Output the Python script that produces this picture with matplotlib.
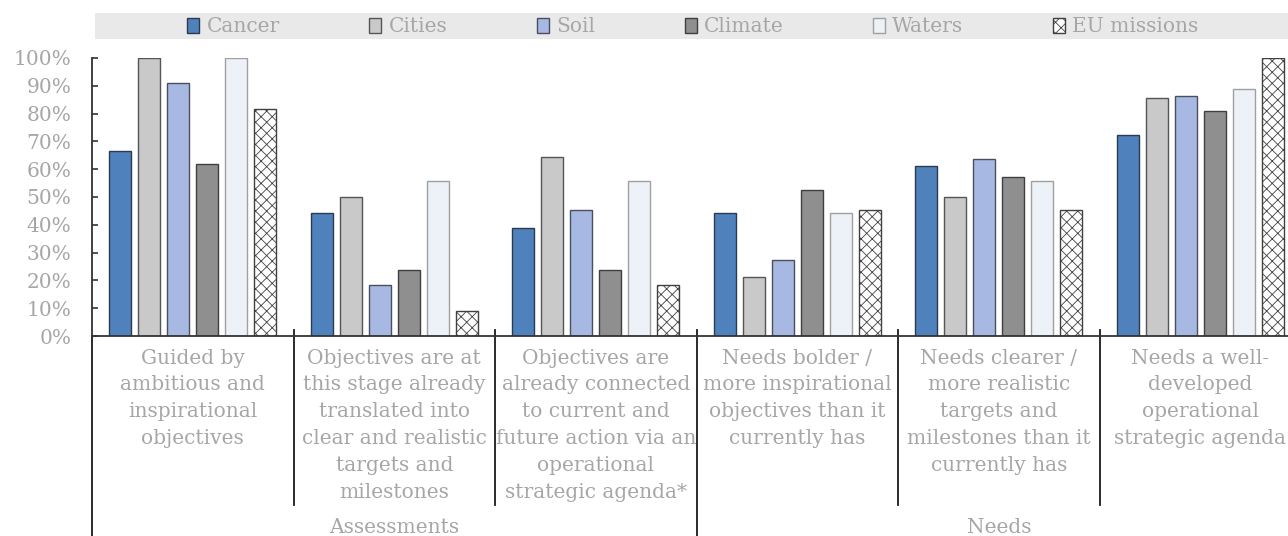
import matplotlib
matplotlib.use("Agg")
import matplotlib.pyplot as plt
import numpy as np
from matplotlib.patches import Rectangle
from matplotlib.ticker import FuncFormatter, MultipleLocator

# share of respondents per mission (%)
series = ['Cancer', 'Cities', 'Soil', 'Climate', 'Waters', 'EU missions']
cancer = [66.7, 44.4, 38.9, 44.4, 61.1, 72.2]
cities = [100.0, 50.0, 64.3, 21.4, 50.0, 85.7]
soil = [90.9, 18.2, 45.5, 27.3, 63.6, 86.4]
climate = [61.9, 23.8, 23.8, 52.4, 57.1, 81.0]
waters = [100.0, 55.6, 55.6, 44.4, 55.6, 88.9]
eu_missions = [81.8, 9.1, 18.2, 45.5, 45.5, 100.0]

categories = [
    'Guided by\nambitious and\ninspirational\nobjectives',
    'Objectives are at\nthis stage already\ntranslated into\nclear and realistic\ntargets and\nmilestones',
    'Objectives are\nalready connected\nto current and\nfuture action via an\noperational\nstrategic agenda*',
    'Needs bolder /\nmore inspirational\nobjectives than it\ncurrently has',
    'Needs clearer /\nmore realistic\ntargets and\nmilestones than it\ncurrently has',
    'Needs a well-\ndeveloped\noperational\nstrategic agenda',
]
groups = ['Assessments', 'Needs']

plt.rcParams['font.family'] = 'DejaVu Serif'
plt.rcParams['hatch.linewidth'] = 0.6
grey_text = '#A6A6A6'
dark = '#333333'
fs = 14.5

fig = plt.figure(figsize=(12.88, 5.36), dpi=100)
W, H = 1288, 536
ax = fig.add_axes([92 / W, 200 / H, 1209 / W, 278 / H])

values = [cancer, cities, soil, climate, waters, eu_missions]
fills = ['#4F81BD', '#C9C9C9', '#A7B8E2', '#8F8F8F', '#EDF1F8', 'white']
edges = ['#2B3A4E', '#555555', '#4A4F5C', '#3F3F3F', '#A0A0A0', '#404040']
hatches = [None, None, None, None, None, 'xxx']

x = np.arange(len(categories))
pitch, width = 0.144, 0.111
handles = []
for j, vals in enumerate(values):
    b = ax.bar(x + (j - 2.5) * pitch, np.array(vals) / 100, width,
               color=fills[j], edgecolor=edges[j], linewidth=1.0,
               hatch=hatches[j], label=series[j], zorder=2)
    handles.append(b)

ax.set_xlim(-0.5, 5.5)
ax.set_ylim(0, 1.0)
ax.yaxis.set_major_locator(MultipleLocator(0.1))
ax.yaxis.set_major_formatter(FuncFormatter(lambda v, p: f'{v * 100:.0f}%'))
ax.tick_params(axis='y', direction='in', length=4, width=1.2, color=dark,
               labelsize=fs, labelcolor=grey_text, pad=15)
ax.set_xticks([])
for s in ['top', 'right']:
    ax.spines[s].set_visible(False)
ax.spines['left'].set_color(dark)
ax.spines['left'].set_linewidth(1.3)
ax.spines['bottom'].set_color(dark)
ax.spines['bottom'].set_linewidth(1.3)

# two-level category axis below the bars
trans = ax.get_xaxis_transform()
for xs in [0.5, 1.5, 3.5, 4.5]:
    ax.plot([xs, xs], [0.02, -0.608], transform=trans, color='#1A1A1A',
            lw=1.3, clip_on=False)
for xs in [-0.5, 2.5]:
    ax.plot([xs, xs], [0.02 if xs > 0 else 0, -0.75], transform=trans,
            color='#1A1A1A', lw=1.3, clip_on=False)

for i, lab in enumerate(categories):
    ax.text(i, -0.045, lab, transform=trans, ha='center', va='top',
            fontsize=fs, color=grey_text, linespacing=1.52)
for k, g in enumerate(groups):
    ax.text(1 + 3 * k, -0.69, g, transform=trans, ha='center',
            va='center', fontsize=fs, color=grey_text)

# legend on a light grey band
fig.patches.append(Rectangle((95 / W, (H - 39) / H), 1 - 95 / W, 26 / H,
                             transform=fig.transFigure, facecolor='#E9E9E9',
                             edgecolor='none', zorder=-1))
leg = ax.legend(handles=handles, loc='center', bbox_to_anchor=(0.497, 1.112),
                ncol=6, frameon=False, fontsize=fs, handlelength=0.6,
                handleheight=0.75, handletextpad=0.35, columnspacing=4.45,
                borderpad=0)
for t in leg.get_texts():
    t.set_color(grey_text)

fig.savefig('out.png', dpi=100)
